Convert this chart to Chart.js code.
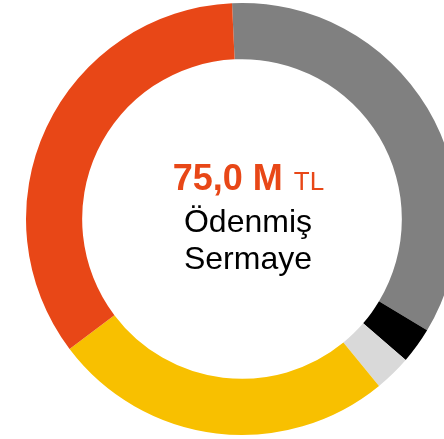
<!DOCTYPE html>
<html>
<head>
<meta charset="utf-8">
<script src="https://cdn.jsdelivr.net/npm/chart.js@4/dist/chart.umd.min.js"></script>
<style>
  html, body { margin: 0; padding: 0; background: #fff; overflow: hidden; }
  #wrap { width: 444px; height: 439px; overflow: hidden; position: relative; }
  canvas { position: absolute; left: 0; top: 0; }
</style>
</head>
<body>
<div id="wrap">
  <canvas id="pie" width="484" height="438"></canvas>
</div>
<script>
// shares of the paid-in capital (percent), clockwise from the top
var labels = ["Pay 1", "Pay 2", "Pay 3", "Pay 4", "Pay 5"];
var shares = [34.35, 2.7, 2.75, 25.65, 34.55];
var colors = ["#808080", "#000000", "#d9d9d9", "#f8c000", "#e84717"];

var totalText = "75,0 M";
var unitText = "TL";
var captionLines = ["Ödenmiş", "Sermaye"];

//---------center text plugin----------
var centerText = {
  id: "centerText",
  afterDraw: function (chart) {
    var ctx = chart.ctx;
    var arc = chart.getDatasetMeta(0).data[0];
    var cx = arc.x + 6;
    var cy = arc.y;
    ctx.save();
    ctx.textBaseline = "alphabetic";

    ctx.font = "bold 36px 'Liberation Sans', Arial, sans-serif";
    var w1 = ctx.measureText(totalText + " ").width;
    ctx.font = "26px 'Liberation Sans', Arial, sans-serif";
    var w2 = ctx.measureText(unitText).width;
    var x0 = cx - (w1 + w2) / 2;

    ctx.fillStyle = "#e84717";
    ctx.textAlign = "left";
    ctx.font = "bold 36px 'Liberation Sans', Arial, sans-serif";
    ctx.fillText(totalText, x0, cy - 29);
    ctx.font = "26px 'Liberation Sans', Arial, sans-serif";
    ctx.fillText(unitText, x0 + w1 + 1, cy - 29);

    ctx.fillStyle = "#000";
    ctx.textAlign = "center";
    ctx.font = "32px 'Liberation Sans', Arial, sans-serif";
    ctx.fillText(captionLines[0], cx, cy + 13);
    ctx.fillText(captionLines[1], cx, cy + 49.5);
    ctx.restore();
  }
};

var ctx = document.getElementById("pie").getContext("2d");
var pie = new Chart(ctx, {
  type: "doughnut",
  data: {
    labels: labels,
    datasets: [
      {
        data: shares,
        backgroundColor: colors,
        borderWidth: 0,
        hoverOffset: 0,
      },
    ],
  },
  options: {
    responsive: false,
    animation: false,
    rotation: -2.65,
    cutout: "74%",
    radius: 216,
    layout: { padding: 0 },
    plugins: {
      legend: { display: false },
      tooltip: { enabled: false },
    },
  },
  plugins: [centerText],
});
</script>
</body>
</html>
